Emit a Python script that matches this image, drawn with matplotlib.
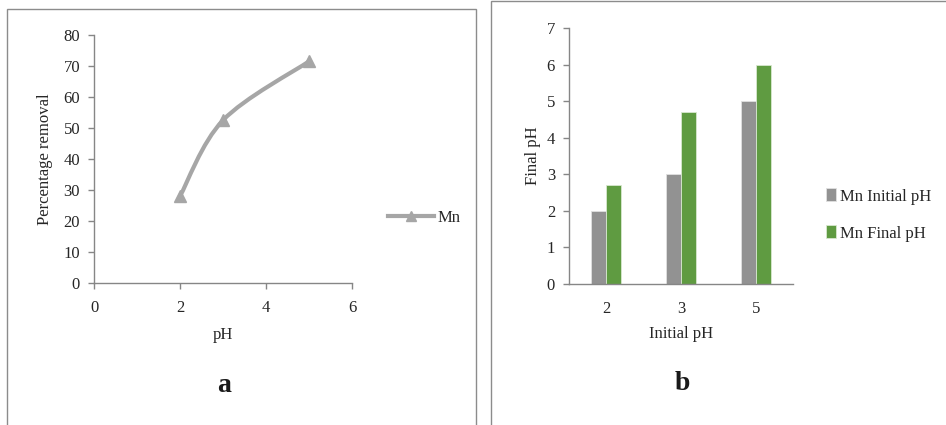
import matplotlib
matplotlib.use("Agg")
import matplotlib.pyplot as plt
import numpy as np
from matplotlib.path import Path
from matplotlib.patches import PathPatch, Rectangle
from matplotlib.lines import Line2D

plt.rcParams['font.family'] = ['Liberation Serif', 'DejaVu Serif']
plt.rcParams['font.size'] = 12

# ---- data ----
ph_a = [2, 3, 5]
removal_mn = [28, 52.5, 71.5]
series_a = "Mn"

categories_b = ["2", "3", "5"]
mn_initial = [2, 3, 5]
mn_final = [2.7, 4.7, 6.0]
series_b = ["Mn Initial pH", "Mn Final pH"]

W, H = 946, 425
fig = plt.figure(figsize=(W / 100, H / 100), dpi=100)

def fx(px):
    return px / W

def fy(py):
    return 1 - py / H

axis_col = "#868686"
text_col = "#262626"

# panel borders
fig.add_artist(Rectangle((fx(7), fy(440)), fx(476 - 7), (440 - 9) / H,
                         transform=fig.transFigure, fill=False, ec="#8c8c8c", lw=1.0))
fig.add_artist(Rectangle((fx(491), fy(440)), fx(960 - 491), (440 - 1) / H,
                         transform=fig.transFigure, fill=False, ec="#8c8c8c", lw=1.0))

# ---- chart a ----
ax1 = fig.add_axes([fx(94), fy(283), fx(352 - 94), (283 - 35) / H])
ax1.set_xlim(0, 6)
ax1.set_ylim(0, 80)
ax1.set_xticks([0, 2, 4, 6])
ax1.set_yticks(range(0, 81, 10))
for s in ["top", "right"]:
    ax1.spines[s].set_visible(False)
for s in ["left", "bottom"]:
    ax1.spines[s].set_color(axis_col)
    ax1.spines[s].set_linewidth(1.0)
ax1.tick_params(colors=axis_col, labelcolor=text_col, length=4, width=1.0)
ax1.tick_params(axis="x", pad=8)
ax1.tick_params(axis="y", pad=6)

# smoothed line (Catmull-Rom -> Bezier, as in spreadsheet smoothed lines)
pts = np.column_stack([ph_a, removal_mn]).astype(float)
verts = [tuple(pts[0])]
codes = [Path.MOVETO]
n = len(pts)
for i in range(n - 1):
    p0 = pts[i - 1] if i > 0 else pts[i]
    p1 = pts[i]
    p2 = pts[i + 1]
    p3 = pts[i + 2] if i + 2 < n else pts[i + 1]
    c1 = p1 + (p2 - p0) / 6.0
    c2 = p2 - (p3 - p1) / 6.0
    verts += [tuple(c1), tuple(c2), tuple(p2)]
    codes += [Path.CURVE4] * 3
line_col = "#a6a6a6"
ax1.add_patch(PathPatch(Path(verts, codes), fill=False, ec=line_col, lw=3.0,
                        capstyle="round", joinstyle="round", zorder=3))
ax1.plot(ph_a, removal_mn, linestyle="none", marker="^", ms=9, color=line_col,
         mec=line_col, zorder=4, clip_on=False)

ax1.set_xlabel("pH", color=text_col)
ax1.xaxis.set_label_coords(0.5, -(335 - 283) / (283 - 35), transform=ax1.transAxes)
ax1.set_ylabel("Percentage removal", color=text_col)
ax1.yaxis.set_label_coords(-(94 - 45) / (352 - 94), 0.5, transform=ax1.transAxes)
ax1.yaxis.label.set_va("center")
ax1.xaxis.label.set_va("center")

h_a = Line2D([], [], color=line_col, lw=3.0, marker="^", ms=7, mec=line_col)
fig.legend([h_a], [series_a], loc="center left",
           bbox_to_anchor=(fx(388), fy(218)), frameon=False,
           handlelength=2.75, handletextpad=0.2, borderpad=0, borderaxespad=0,
           labelcolor=text_col)

fig.text(fx(224), fy(385), "a", ha="center", va="center", fontsize=20,
         fontweight="bold", color="#1a1a1a")

# ---- chart b ----
ax2 = fig.add_axes([fx(569), fy(284), fx(793 - 569), (284 - 28) / H])
x = np.arange(len(categories_b))
bw = 0.2
gray_col = "#929292"
green_col = "#5f9b41"
ax2.bar(x - bw / 2, mn_initial, width=bw, color=gray_col, label=series_b[0],
        edgecolor="#e0e0e0", linewidth=0.6)
ax2.bar(x + bw / 2, mn_final, width=bw, color=green_col, label=series_b[1],
        edgecolor="#d8e8d0", linewidth=0.6)
ax2.set_xlim(-0.5, len(categories_b) - 0.5)
ax2.set_ylim(0, 7)
ax2.set_xticks(x)
ax2.set_xticklabels(categories_b)
ax2.set_yticks(range(0, 8))
for s in ["top", "right"]:
    ax2.spines[s].set_visible(False)
for s in ["left", "bottom"]:
    ax2.spines[s].set_color(axis_col)
    ax2.spines[s].set_linewidth(1.0)
ax2.tick_params(colors=axis_col, labelcolor=text_col, length=4, width=1.0)
ax2.tick_params(axis="y", pad=6)
ax2.tick_params(axis="x", length=0, pad=12)
ax2.set_xlabel("Initial pH", color=text_col)
ax2.xaxis.set_label_coords(0.5, -(334 - 284) / (284 - 28), transform=ax2.transAxes)
ax2.xaxis.label.set_va("center")
ax2.set_ylabel("Final pH", color=text_col)
ax2.yaxis.set_label_coords(-(569 - 533) / (793 - 569), 0.5, transform=ax2.transAxes)
ax2.yaxis.label.set_va("center")

ax2.legend(loc="center left", bbox_to_anchor=(fx(826), fy(215)),
           bbox_transform=fig.transFigure, frameon=False,
           handlelength=0.6, handleheight=0.8, handletextpad=0.25,
           labelspacing=1.25, borderpad=0, borderaxespad=0, labelcolor=text_col)

fig.text(fx(682), fy(383), "b", ha="center", va="center", fontsize=20,
         fontweight="bold", color="#1a1a1a")

fig.savefig("out.png", dpi=100)
